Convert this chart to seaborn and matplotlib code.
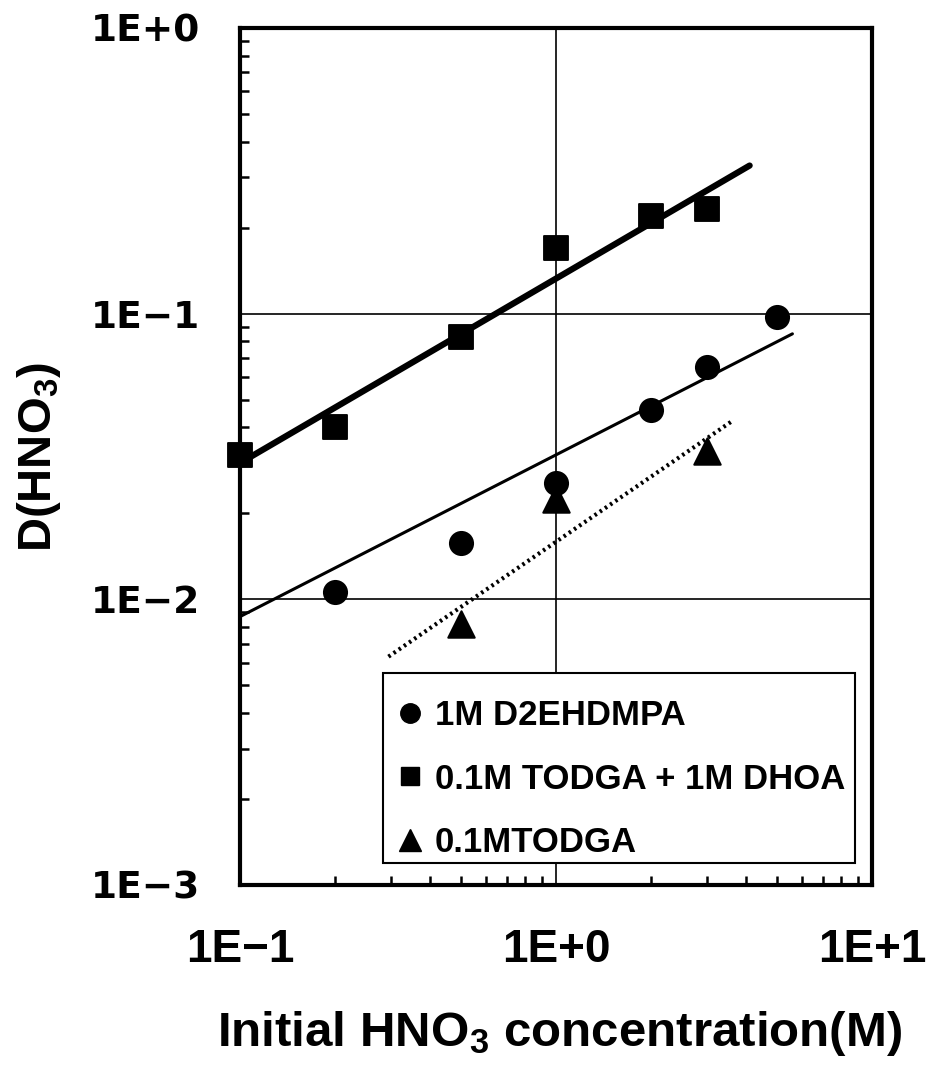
import numpy as np
import pandas as pd
import seaborn as sns
import matplotlib
matplotlib.use("Agg")
import matplotlib.pyplot as plt
from matplotlib.lines import Line2D
from matplotlib.patches import Rectangle
from matplotlib.ticker import LogLocator, NullFormatter, FixedLocator, FixedFormatter

# ---- data ----
x_sq = [0.1, 0.2, 0.5, 1.0, 2.0, 3.0]
y_sq = [0.032, 0.040, 0.083, 0.17, 0.22, 0.233]
x_ci = [0.2, 0.5, 1.0, 2.0, 3.0, 5.0]
y_ci = [0.0106, 0.0157, 0.0255, 0.046, 0.065, 0.097]
x_tr = [0.5, 1.0, 3.0]
y_tr = [0.0082, 0.0225, 0.0330]

# fitted lines (end points)
fit_sq_x = [0.1, 4.1]
fit_sq_y = [0.030, 0.33]
fit_ci_x = [0.1, 5.6]
fit_ci_y = [0.0087, 0.085]
fit_tr_x = [0.295, 3.6]
fit_tr_y = [0.0063, 0.042]

labels = ["1M D2EHDMPA", "0.1M TODGA + 1M DHOA", "0.1MTODGA"]
xticks = [0.1, 1, 10]
xticklabels = ["1E\u22121", "1E+0", "1E+1"]
yticks = [0.001, 0.01, 0.1, 1]
yticklabels = ["1E\u22123", "1E\u22122", "1E\u22121", "1E+0"]

sns.set_theme(style="white")
plt.rcParams['font.family'] = ['DejaVu Sans']
for k in ["text.color", "axes.labelcolor", "xtick.color", "ytick.color", "axes.edgecolor"]:
    plt.rcParams[k] = "black"
plt.rcParams["mathtext.fontset"] = "custom"
plt.rcParams["mathtext.rm"] = "Liberation Sans:bold"
plt.rcParams["mathtext.it"] = "Liberation Sans:bold"
plt.rcParams["mathtext.bf"] = "Liberation Sans:bold"

LIB = ["Liberation Sans", "DejaVu Sans"]

W, H = 926, 1066
L, R, T, B = 240, 872, 28, 885
fig = plt.figure(figsize=(W/100, H/100), dpi=100)
ax = fig.add_axes([L/W, 1 - B/H, (R-L)/W, (B-T)/H])

def ax_x(px):
    return (px - L) / (R - L)

def ax_y(py):
    return (B - py) / (B - T)

ax.set_xscale("log")
ax.set_yscale("log")
ax.set_xlim(0.1, 10)
ax.set_ylim(0.001, 1)

# fit lines
sns.lineplot(x=fit_sq_x, y=fit_sq_y, ax=ax, color="black", linewidth=4.5, zorder=3)
sns.lineplot(x=fit_ci_x, y=fit_ci_y, ax=ax, color="black", linewidth=2.2, zorder=3)
sns.lineplot(x=fit_tr_x, y=fit_tr_y, ax=ax, color="black", linewidth=3, linestyle=(0, (0.6, 0.9)), zorder=3)

# points
sns.scatterplot(x=x_sq, y=y_sq, ax=ax, marker="s", s=280, color="black", edgecolor="black",
                zorder=4, clip_on=False)
sns.scatterplot(x=x_ci, y=y_ci, ax=ax, marker="o", s=280, color="black", edgecolor="black",
                zorder=4, clip_on=False)
sns.scatterplot(x=x_tr, y=y_tr, ax=ax, marker="^", s=360, color="black", edgecolor="black",
                zorder=4, clip_on=False)

# grid at major decades
ax.grid(False)
ax.axvline(1, color="black", linewidth=1.2, zorder=1)
for v in [0.01, 0.1]:
    ax.axhline(v, color="black", linewidth=1.2, zorder=1)

ax.xaxis.set_major_locator(FixedLocator(xticks))
ax.xaxis.set_major_formatter(FixedFormatter(xticklabels))
ax.yaxis.set_major_locator(FixedLocator(yticks))
ax.yaxis.set_major_formatter(FixedFormatter(yticklabels))
ax.xaxis.set_minor_locator(LogLocator(base=10, subs=np.arange(2, 10)))
ax.yaxis.set_minor_locator(LogLocator(base=10, subs=np.arange(2, 10)))
ax.xaxis.set_minor_formatter(NullFormatter())
ax.yaxis.set_minor_formatter(NullFormatter())
ax.tick_params(axis="both", which="major", direction="in", length=0)
ax.tick_params(axis="y", which="major", pad=29)
ax.tick_params(axis="x", which="major", pad=31)
ax.tick_params(axis="both", which="minor", direction="in", length=6.5, width=1.8, color="black",
               bottom=True, left=True, top=False, right=False)
for lab in ax.get_yticklabels():
    lab.set_fontweight("bold")
    lab.set_fontsize(27)
    lab.set_family(["DejaVu Sans"])
for lab in ax.get_xticklabels():
    lab.set_fontweight("bold")
    lab.set_fontsize(33)
    lab.set_family(LIB)

for sp in ax.spines.values():
    sp.set_visible(True)
    sp.set_color("black")
    sp.set_linewidth(3)
    sp.set_zorder(7)

ax.set_xlabel("Initial HNO$_3$ concentration(M)", fontsize=35.5, family=LIB, fontweight="bold")
ax.xaxis.set_label_coords(ax_x(560), ax_y(1009))
ax.set_ylabel("D(HNO$_3$)", fontsize=34, family=LIB, fontweight="bold")
ax.yaxis.set_label_coords(ax_x(63), 0.5)

# legend frame drawn as a box, entries drawn by the legend
ax.add_patch(Rectangle((ax_x(383), ax_y(863)), ax_x(855) - ax_x(383), ax_y(673) - ax_y(863),
                       transform=ax.transAxes, facecolor="white", edgecolor="black",
                       linewidth=1.5, zorder=5))
handles = [
    Line2D([], [], marker="o", color="black", linestyle="none", markersize=14),
    Line2D([], [], marker="s", color="black", linestyle="none", markersize=13),
    Line2D([], [], marker="^", color="black", linestyle="none", markersize=16),
]
leg = ax.legend(handles, labels, loc="upper left",
                bbox_to_anchor=(ax_x(393), ax_y(699)),
                frameon=False,
                prop={"family": LIB, "weight": "bold", "size": 25},
                handletextpad=0.2, handlelength=1.0, labelspacing=0.88,
                borderpad=0, borderaxespad=0)
leg.set_zorder(6)

fig.savefig("out.png", dpi=100, facecolor="white")
